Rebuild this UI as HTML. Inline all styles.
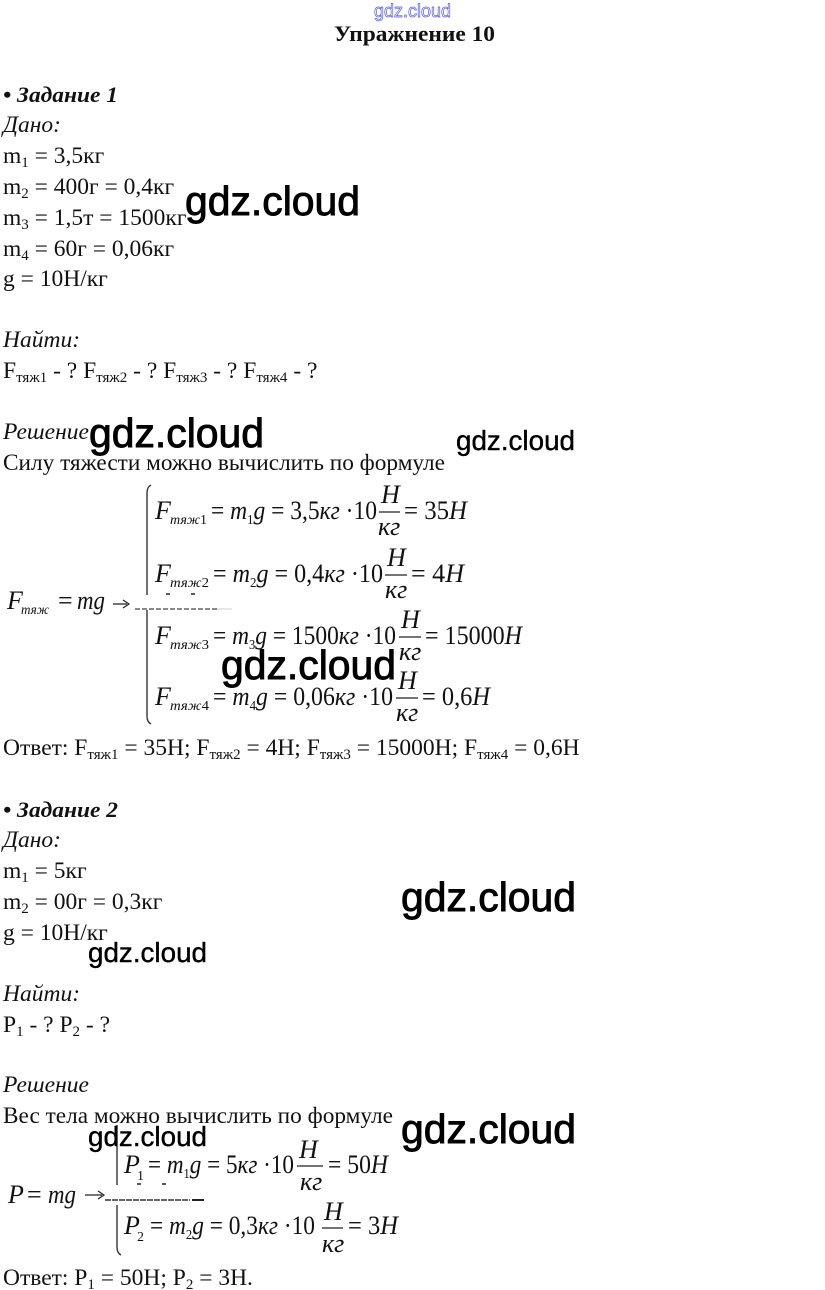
<!DOCTYPE html>
<html><head><meta charset="utf-8">
<style>
html,body{margin:0;padding:0;background:#fff;width:825px;height:1290px;overflow:hidden}
svg{display:block}
text{font-family:"Liberation Serif","Noto Serif CJK SC",serif;font-size:23.5px;fill:#111}
.i{font-style:italic}
.b{font-weight:bold}
.s{font-size:15px}
.m{font-style:italic;font-size:26px}
.ms{font-style:italic;font-size:14px}
.u{font-style:normal}
.us{font-style:normal;font-size:14px}
.w{font-family:"Liberation Sans",sans-serif;fill:#000;stroke:#000}
.wb{font-size:41px;stroke-width:.9}
.ws{font-size:28px;stroke-width:.4}
.f{stroke:#222;stroke-width:1.2}
</style></head><body>
<svg width="825" height="1290" viewBox="0 0 825 1290" xmlns="http://www.w3.org/2000/svg">
<text x="374" y="17" textLength="77" lengthAdjust="spacingAndGlyphs" style="font-family:'Liberation Sans',sans-serif;font-size:18px;fill:#fff;stroke:#5a5ad8;stroke-width:.7">gdz.cloud</text>
<text x="334" y="41" class="b" textLength="161" lengthAdjust="spacingAndGlyphs" style="font-size:22px">Упражнение 10</text>
<text x="3" y="102" class="b i" textLength="115" lengthAdjust="spacingAndGlyphs" style="font-size:22px">• Задание 1</text>
<text x="3" y="132" class="i">Дано:</text>
<text x="3" y="163">m<tspan class="s" dy="4">1</tspan><tspan dy="-4"> = 3,5кг</tspan></text>
<text x="3" y="194">m<tspan class="s" dy="4">2</tspan><tspan dy="-4"> = 400г = 0,4кг</tspan></text>
<text x="3" y="225">m<tspan class="s" dy="4">3</tspan><tspan dy="-4"> = 1,5т = 1500кг</tspan></text>
<text x="3" y="256">m<tspan class="s" dy="4">4</tspan><tspan dy="-4"> = 60г = 0,06кг</tspan></text>
<text x="3" y="286">g = 10Н/кг</text>
<text x="3" y="347" class="i">Найти:</text>
<text x="3" y="378">F<tspan class="s" dy="4">тяж1</tspan><tspan dy="-4"> - ? F</tspan><tspan class="s" dy="4">тяж2</tspan><tspan dy="-4"> - ? F</tspan><tspan class="s" dy="4">тяж3</tspan><tspan dy="-4"> - ? F</tspan><tspan class="s" dy="4">тяж4</tspan><tspan dy="-4"> - ?</tspan></text>
<text x="3" y="439" class="i">Решение</text>
<text x="3" y="470" textLength="442" lengthAdjust="spacingAndGlyphs">Силу тяжести можно вычислить по формуле</text>

<path d="M151 485 Q147 487 147 493 V595 M147 610 V716 Q147 722 151 724" fill="none" stroke="#333" stroke-width="1.4"/>
<path d="M135 609 H217" stroke="#444" stroke-width="1.2" stroke-dasharray="5 2" fill="none"/>
<path d="M217 609 H232" stroke="#ccc" stroke-width="1" fill="none"/>
<path d="M166 594H170M191 594H195" stroke="#222" stroke-width="1.6"/>
<text x="7" y="609" class="m">F</text><text x="21" y="614" class="ms" textLength="28" lengthAdjust="spacingAndGlyphs">тяж</text>
<text x="58" y="609" class="m u">=</text><text x="77" y="609" class="m" textLength="28" lengthAdjust="spacingAndGlyphs">mg</text>
<path d="M113 604H127M123 600L129 604L123 608" fill="none" stroke="#222" stroke-width="1.2"/>

<text x="155" y="519" class="m">F</text><text x="170" y="524" class="ms" textLength="37" lengthAdjust="spacingAndGlyphs">тяж<tspan class="us">1</tspan></text>
<text x="211" y="519" class="m" textLength="166" lengthAdjust="spacingAndGlyphs"><tspan class="u">= </tspan>m<tspan class="us" dy="5">1</tspan><tspan dy="-5">g </tspan><tspan class="u">= 3,5</tspan>кг<tspan class="u"> ·10</tspan></text>
<text x="381" y="503" class="m">H</text><path class="f" d="M379 512H400"/><text x="378" y="535" class="m">кг</text>
<text x="404" y="519" class="m" textLength="63" lengthAdjust="spacingAndGlyphs"><tspan class="u">= 35</tspan>H</text>

<text x="155" y="582" class="m">F</text><text x="170" y="587" class="ms" textLength="39" lengthAdjust="spacingAndGlyphs">тяж<tspan class="us">2</tspan></text>
<text x="213" y="582" class="m" textLength="170" lengthAdjust="spacingAndGlyphs"><tspan class="u">= </tspan>m<tspan class="us" dy="5">2</tspan><tspan dy="-5">g </tspan><tspan class="u">= 0,4</tspan>кг<tspan class="u"> ·10</tspan></text>
<text x="387" y="566" class="m">H</text><path class="f" d="M385 575H407"/><text x="385" y="598" class="m">кг</text>
<text x="411" y="582" class="m" textLength="53" lengthAdjust="spacingAndGlyphs"><tspan class="u">= 4</tspan>H</text>

<text x="155" y="644" class="m">F</text><text x="170" y="649" class="ms" textLength="39" lengthAdjust="spacingAndGlyphs">тяж<tspan class="us">3</tspan></text>
<text x="213" y="644" class="m" textLength="183" lengthAdjust="spacingAndGlyphs"><tspan class="u">= </tspan>m<tspan class="us" dy="5">3</tspan><tspan dy="-5">g </tspan><tspan class="u">= 1500</tspan>кг<tspan class="u"> ·10</tspan></text>
<text x="401" y="628" class="m">H</text><path class="f" d="M399 637H421"/><text x="399" y="660" class="m">кг</text>
<text x="425" y="644" class="m" textLength="97" lengthAdjust="spacingAndGlyphs"><tspan class="u">= 15000</tspan>H</text>

<text x="155" y="705" class="m">F</text><text x="170" y="710" class="ms" textLength="39" lengthAdjust="spacingAndGlyphs">тяж<tspan class="us">4</tspan></text>
<text x="213" y="705" class="m" textLength="180" lengthAdjust="spacingAndGlyphs"><tspan class="u">= </tspan>m<tspan class="us" dy="5">4</tspan><tspan dy="-5">g </tspan><tspan class="u">= 0,06</tspan>кг<tspan class="u"> ·10</tspan></text>
<text x="398" y="689" class="m">H</text><path class="f" d="M396 698H418"/><text x="396" y="721" class="m">кг</text>
<text x="422" y="705" class="m" textLength="68" lengthAdjust="spacingAndGlyphs"><tspan class="u">= 0,6</tspan>H</text>

<text x="3" y="755">Ответ: F<tspan class="s" dy="4">тяж1</tspan><tspan dy="-4"> = 35Н; F</tspan><tspan class="s" dy="4">тяж2</tspan><tspan dy="-4"> = 4Н; F</tspan><tspan class="s" dy="4">тяж3</tspan><tspan dy="-4"> = 15000Н; F</tspan><tspan class="s" dy="4">тяж4</tspan><tspan dy="-4"> = 0,6Н</tspan></text>

<text x="3" y="817" class="b i" textLength="115" lengthAdjust="spacingAndGlyphs" style="font-size:22px">• Задание 2</text>
<text x="3" y="847" class="i">Дано:</text>
<text x="3" y="878">m<tspan class="s" dy="4">1</tspan><tspan dy="-4"> = 5кг</tspan></text>
<text x="3" y="909">m<tspan class="s" dy="4">2</tspan><tspan dy="-4"> = 00г = 0,3кг</tspan></text>
<text x="3" y="940">g = 10Н/кг</text>
<text x="3" y="1001" class="i">Найти:</text>
<text x="3" y="1032">P<tspan class="s" dy="4">1</tspan><tspan dy="-4"> - ? P</tspan><tspan class="s" dy="4">2</tspan><tspan dy="-4"> - ?</tspan></text>
<text x="3" y="1092" class="i">Решение</text>
<text x="3" y="1123" textLength="390" lengthAdjust="spacingAndGlyphs">Вес тела можно вычислить по формуле</text>

<path d="M117 1125 V1185 M117 1205 V1247 Q117 1253 121 1255" fill="none" stroke="#333" stroke-width="1.4"/>
<path d="M105 1200 H190" stroke="#333" stroke-width="1.4" stroke-dasharray="6 1" fill="none"/>
<path d="M192 1200 H204" stroke="#222" stroke-width="2" fill="none"/>
<path d="M137 1184H141M162 1184H166" stroke="#222" stroke-width="1.6"/>
<text x="8" y="1203" class="m">P</text><text x="27" y="1203" class="m u">=</text><text x="48" y="1203" class="m" textLength="28" lengthAdjust="spacingAndGlyphs">mg</text>
<path d="M85 1195H102M98 1191L104 1195L98 1199" fill="none" stroke="#222" stroke-width="1.2"/>

<text x="124" y="1173" class="m">P</text><text x="137" y="1180" class="us">1</text>
<text x="148" y="1173" class="m" textLength="146" lengthAdjust="spacingAndGlyphs"><tspan class="u">= </tspan>m<tspan class="us" dy="5">1</tspan><tspan dy="-5">g </tspan><tspan class="u">= 5</tspan>кг<tspan class="u"> ·10</tspan></text>
<text x="299" y="1158" class="m">H</text><path class="f" d="M297 1166H323"/><text x="300" y="1190" class="m">кг</text>
<text x="328" y="1173" class="m" textLength="60" lengthAdjust="spacingAndGlyphs"><tspan class="u">= 50</tspan>H</text>

<text x="124" y="1234" class="m">P</text><text x="137" y="1241" class="us">2</text>
<text x="150" y="1234" class="m" textLength="165" lengthAdjust="spacingAndGlyphs"><tspan class="u">= </tspan>m<tspan class="us" dy="5">2</tspan><tspan dy="-5">g </tspan><tspan class="u">= 0,3</tspan>кг<tspan class="u"> ·10</tspan></text>
<text x="324" y="1220" class="m">H</text><path class="f" d="M322 1228H343"/><text x="322" y="1252" class="m">кг</text>
<text x="348" y="1234" class="m" textLength="50" lengthAdjust="spacingAndGlyphs"><tspan class="u">= 3</tspan>H</text>

<text x="3" y="1285">Ответ: P<tspan class="s" dy="4">1</tspan><tspan dy="-4"> = 50Н; P</tspan><tspan class="s" dy="4">2</tspan><tspan dy="-4"> = 3Н.</tspan></text>

<text class="w wb" x="185" y="215" textLength="175" lengthAdjust="spacingAndGlyphs">gdz.cloud</text>
<text class="w wb" x="89" y="447" textLength="175" lengthAdjust="spacingAndGlyphs">gdz.cloud</text>
<text class="w ws" x="456" y="450" textLength="119" lengthAdjust="spacingAndGlyphs">gdz.cloud</text>
<text class="w wb" x="221" y="679" textLength="175" lengthAdjust="spacingAndGlyphs">gdz.cloud</text>
<text class="w wb" x="401" y="911" textLength="175" lengthAdjust="spacingAndGlyphs">gdz.cloud</text>
<text class="w ws" x="88" y="962" textLength="119" lengthAdjust="spacingAndGlyphs">gdz.cloud</text>
<text class="w wb" x="401" y="1143" textLength="175" lengthAdjust="spacingAndGlyphs">gdz.cloud</text>
<text class="w ws" x="88" y="1146" textLength="119" lengthAdjust="spacingAndGlyphs">gdz.cloud</text>
</svg>
</body></html>
